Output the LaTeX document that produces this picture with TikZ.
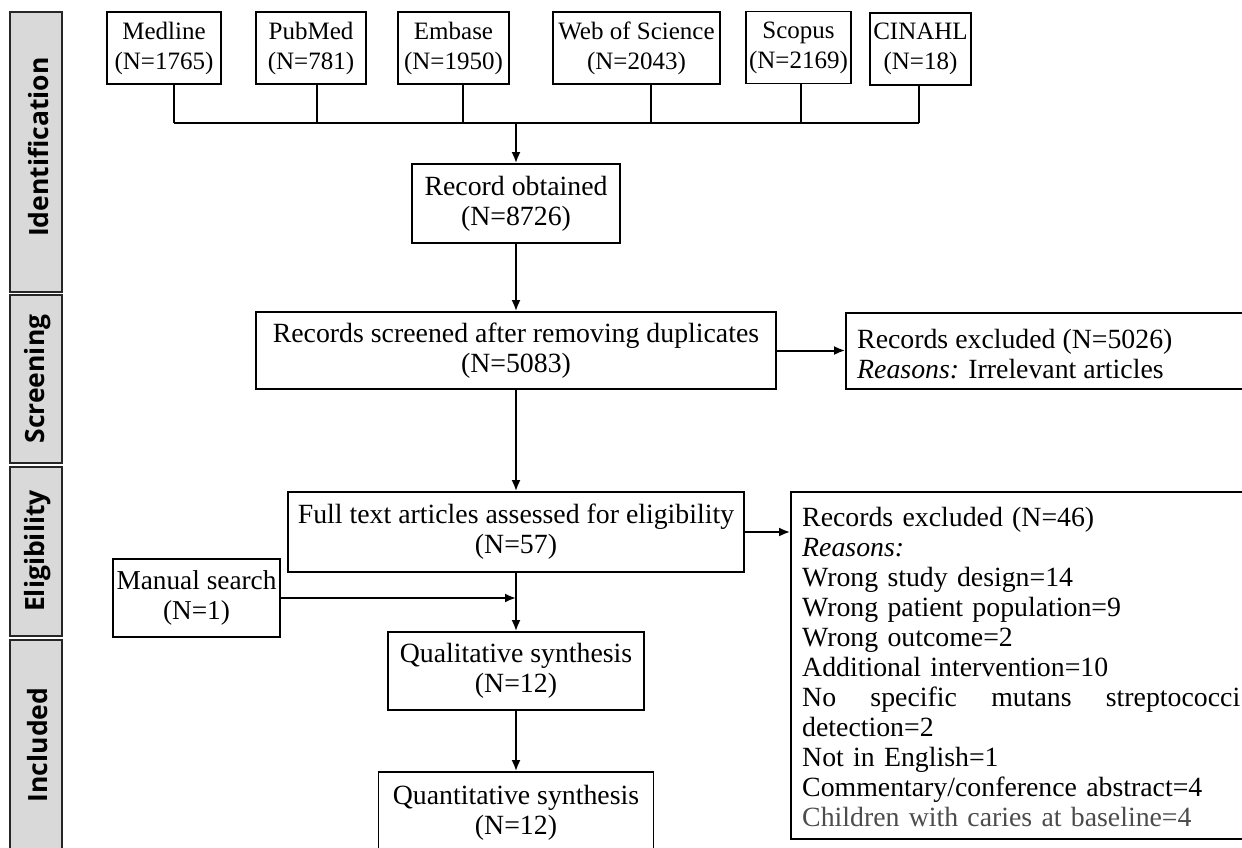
\documentclass[tikz,border=0pt]{standalone}
\usepackage{fontspec}
\setmainfont{Liberation Serif}
\newfontfamily\barfont{Open Sans}
\usetikzlibrary{arrows.meta}
\begin{document}
\begin{tikzpicture}[x=1pt,y=-1pt,
  box/.style={draw, line width=1.8pt, align=center, inner sep=0pt, font=\fontsize{27.8}{30}\selectfont},
  dbbox/.style={box, minimum height=72pt, font=\fontsize{25}{30}\selectfont},
  exbox/.style={draw, line width=1.8pt, inner sep=0pt},
  extext/.style={align=left, inner sep=0pt, anchor=north west, font=\fontsize{27.8}{30}\selectfont},
  bar/.style={draw=black!85, fill=black!15, line width=1.8pt, inner sep=0pt, minimum width=52pt},
  barlabel/.style={rotate=90, inner sep=0pt, font=\barfont\bfseries\fontsize{26.5}{30}\selectfont},
  arr/.style={line width=2pt, -{Latex[length=11pt,width=9pt]}},
  conn/.style={line width=1.6pt},
]
\useasboundingbox (0,0) rectangle (1242,847);
\clip (0,0) rectangle (1242,847);
\fill[white] (0,0) rectangle (1242,847);

% phase bars
\node[bar, minimum height=280pt] (bI) at (36,152) {};
\node[bar, minimum height=168pt] (bS) at (36,379) {};
\node[bar, minimum height=169pt] (bE) at (36,551.5) {};
\node[bar, minimum height=212pt] (bN) at (36,746) {};
\node[barlabel] (lI) at (38,147) {Identification};
\node[barlabel] (lS) at (38,379) {Screening};
\node[barlabel] (lE) at (38,551) {Eligibility};
\node[barlabel] (lN) at (38,745) {Included};

% databases
\node[dbbox, minimum width=114pt] (medline) at (164,48) {Medline\\(N=1765)};
\node[dbbox, minimum width=110pt] (pubmed) at (311,48) {PubMed\\(N=781)};
\node[dbbox, minimum width=111pt] (embase) at (453.5,48) {Embase\\(N=1950)};
\node[dbbox, minimum width=167pt] (wos) at (636.5,48) {Web of Science\\(N=2043)};
\node[dbbox, minimum width=105pt] (scopus) at (798.5,47.5) {Scopus\\(N=2169)};
\node[dbbox, minimum width=101pt] (cinahl) at (920.5,49) {CINAHL\\(N=18)};

\coordinate (j) at (516,123);
\foreach \n/\s in {medline/10,pubmed/6,embase/9.5,wos/14.5,scopus/2.5,cinahl/-1.5}
  \draw[conn] ([xshift=\s pt]\n.south) -- ([xshift=\s pt]\n.south |- j);
\draw[conn] ([xshift=10pt]medline.south |- j) -- ([xshift=-1.5pt]cinahl.south |- j);

% main column
\node[box, minimum width=208pt, minimum height=79pt] (rec) at (516,203.5) {Record obtained\\(N=8726)};
\node[box, minimum width=520pt, minimum height=77pt] (scr) at (516,350.5) {Records screened after removing duplicates\\(N=5083)};
\node[box, minimum width=456pt, minimum height=80pt] (full) at (516,532) {Full text articles assessed for eligibility\\(N=57)};
\node[box, minimum width=256pt, minimum height=78pt] (qual) at (516,671) {Qualitative synthesis\\(N=12)};
\node[box, minimum width=275pt, minimum height=81pt] (quant) at (516,812.5) {Quantitative synthesis\\(N=12)};
\node[box, minimum width=167pt, minimum height=78pt, font=\fontsize{27.3}{30}\selectfont] (manual) at (196.5,598) {Manual search\\(N=1)};

% exclusion boxes
\node[exbox, minimum width=420pt, minimum height=76pt] (ex1) at (1056,351) {};
\node[extext] (ex1t) at (857,329) {Records excluded (N=5026)\\\textit{Reasons:} Irrelevant articles};
\node[exbox, minimum width=475pt, minimum height=347pt] (ex2) at (1028.5,665.5) {};
\node[extext, text width=438pt] (ex2t) at (802,507) {Records excluded (N=46)\\
\textit{Reasons:}\\
Wrong study design=14\\
Wrong patient population=9\\
Wrong outcome=2\\
Additional intervention=10\\
\makebox[438pt][l]{No\hfill specific\hfill mutans\hfill streptococci}\\
detection=2\\
Not in English=1\\
Commentary/conference abstract=4\\
\textcolor{black!70}{Children with caries at baseline=4}};

% connectors
\draw[arr] (j) -- (rec.north);
\draw[arr] (rec.south) -- (scr.north);
\draw[arr] (scr.east) -- (scr.east -| ex1.west);
\draw[arr] (scr.south) -- (full.north);
\draw[arr] (full.east) -- (full.east -| ex2.west);
\coordinate (m) at (full.south |- manual.east);
\draw[arr] (manual.east) -- (m);
\draw[arr] (full.south) -- (qual.north);
\draw[arr] (qual.south) -- (quant.north);
\end{tikzpicture}
\end{document}
